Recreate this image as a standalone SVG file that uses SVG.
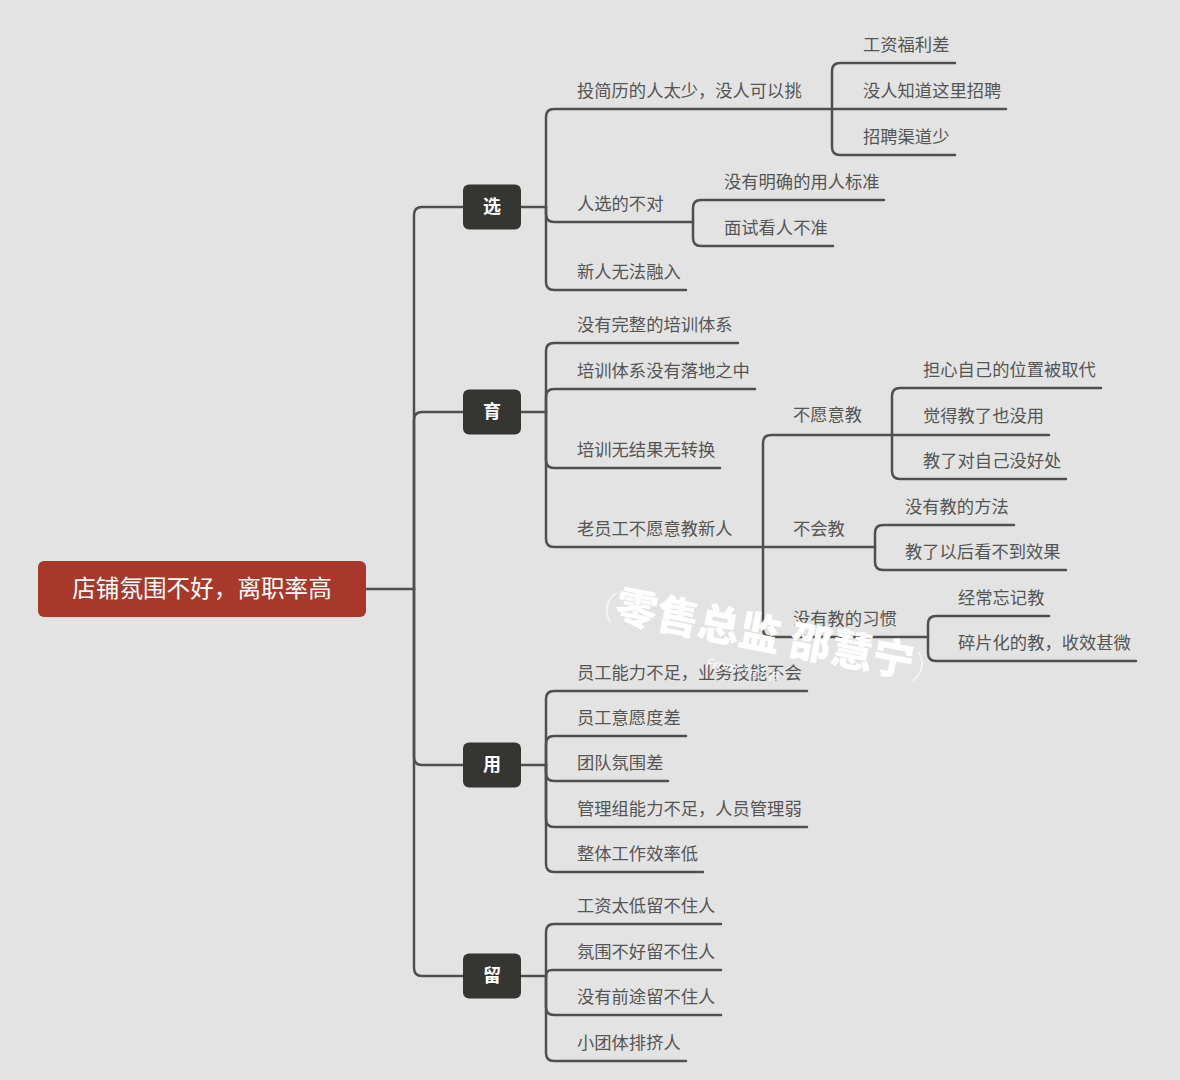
<svg xmlns="http://www.w3.org/2000/svg" width="1180" height="1080" viewBox="0 0 1180 1080">
<style>
.bg{fill:#e3e3e3}
.ln{fill:none;stroke:#4f4f4f;stroke-width:2.5;stroke-linecap:round}
.t{font-family:"Noto Sans CJK SC","Noto Sans",sans-serif;font-size:17.3px;fill:#555}
.l1 rect{fill:#353531}
.l1 text{font-family:"Noto Sans CJK SC","Noto Sans",sans-serif;font-size:18px;font-weight:bold;fill:#fff;text-anchor:middle}
.root rect{fill:#a8392a}
.root text{font-family:"Noto Sans CJK SC","Noto Sans",sans-serif;font-size:23.6px;fill:#fff;text-anchor:middle}
.wm{font-family:"Noto Sans CJK SC","Noto Sans",sans-serif;fill:#fff}
</style>
<rect class="bg" x="0" y="0" width="1180" height="1080"/>
<g id="connectors">
<path class="ln" d="M366,589 H414"/>
<path class="ln" d="M414,589 V215 Q414,207 422,207 H463"/>
<path class="ln" d="M414,589 V420 Q414,412 422,412 H463"/>
<path class="ln" d="M414,589 V757 Q414,765 422,765 H463"/>
<path class="ln" d="M414,589 V968 Q414,976 422,976 H463"/>
<path class="ln" d="M521,207 H546"/>
<path class="ln" d="M521,412 H546"/>
<path class="ln" d="M521,765 H546"/>
<path class="ln" d="M521,976 H546"/>
<!-- 选 -->
<path class="ln" d="M546,207 V117 Q546,109 554,109 H832"/>
<path class="ln" d="M832,109 V71 Q832,63 840,63 H955"/>
<path class="ln" d="M832,109 H1006"/>
<path class="ln" d="M832,109 V147 Q832,155 840,155 H955"/>
<path class="ln" d="M546,207 V214 Q546,222 554,222 H693"/>
<path class="ln" d="M693,222 V208 Q693,200 701,200 H884"/>
<path class="ln" d="M693,222 V238 Q693,246 701,246 H833"/>
<path class="ln" d="M546,207 V282 Q546,290 554,290 H686"/>
<!-- 育 -->
<path class="ln" d="M546,412 V351 Q546,343 554,343 H738"/>
<path class="ln" d="M546,412 V397 Q546,389 554,389 H755"/>
<path class="ln" d="M546,412 V460 Q546,468 554,468 H720"/>
<path class="ln" d="M546,412 V539 Q546,547 554,547 H763"/>
<path class="ln" d="M763,547 V443 Q763,435 771,435 H892"/>
<path class="ln" d="M892,435 V396 Q892,388 900,388 H1101"/>
<path class="ln" d="M892,435 H1049"/>
<path class="ln" d="M892,435 V471 Q892,479 900,479 H1066"/>
<path class="ln" d="M763,547 H875"/>
<path class="ln" d="M875,547 V533 Q875,525 883,525 H1014"/>
<path class="ln" d="M875,547 V562 Q875,570 883,570 H1066"/>
<path class="ln" d="M763,547 V629 Q763,637 771,637 H928"/>
<path class="ln" d="M928,637 V624 Q928,616 936,616 H1049"/>
<path class="ln" d="M928,637 V653 Q928,661 936,661 H1136"/>
<!-- 用 -->
<path class="ln" d="M546,765 V699 Q546,691 554,691 H807"/>
<path class="ln" d="M546,765 V744 Q546,736 554,736 H686"/>
<path class="ln" d="M546,765 V773 Q546,781 554,781 H668"/>
<path class="ln" d="M546,765 V819 Q546,827 554,827 H807"/>
<path class="ln" d="M546,765 V864 Q546,872 554,872 H703"/>
<!-- 留 -->
<path class="ln" d="M546,976 V932 Q546,924 554,924 H721"/>
<path class="ln" d="M546,976 Q546,970 552,970 H721"/>
<path class="ln" d="M546,976 V1007 Q546,1015 554,1015 H721"/>
<path class="ln" d="M546,976 V1053 Q546,1061 554,1061 H686"/>
</g>
<g id="root" class="root"><rect x="38" y="561" width="328" height="56" rx="6"/><text x="202" y="597">店铺氛围不好，离职率高</text></g>
<g id="n-xuan" class="l1"><rect x="463" y="184.5" width="58" height="45" rx="6"/><text x="492" y="213">选</text></g>
<g id="n-yu" class="l1"><rect x="463" y="389.5" width="58" height="45" rx="6"/><text x="492" y="418">育</text></g>
<g id="n-yong" class="l1"><rect x="463" y="742.5" width="58" height="45" rx="6"/><text x="492" y="771">用</text></g>
<g id="n-liu" class="l1"><rect x="463" y="953.5" width="58" height="45" rx="6"/><text x="492" y="982">留</text></g>
<g id="xuan-children">
<g id="x1"><text class="t" x="577" y="97">投简历的人太少，没人可以挑</text></g>
<g id="x1a"><text class="t" x="863" y="51">工资福利差</text></g>
<g id="x1b"><text class="t" x="863" y="97">没人知道这里招聘</text></g>
<g id="x1c"><text class="t" x="863" y="143">招聘渠道少</text></g>
<g id="x2"><text class="t" x="577" y="210">人选的不对</text></g>
<g id="x2a"><text class="t" x="724" y="188">没有明确的用人标准</text></g>
<g id="x2b"><text class="t" x="724" y="234">面试看人不准</text></g>
<g id="x3"><text class="t" x="577" y="278">新人无法融入</text></g>
</g>
<g id="yu-children">
<g id="y1"><text class="t" x="577" y="331">没有完整的培训体系</text></g>
<g id="y2"><text class="t" x="577" y="377">培训体系没有落地之中</text></g>
<g id="y3"><text class="t" x="577" y="456">培训无结果无转换</text></g>
<g id="y4"><text class="t" x="577" y="535">老员工不愿意教新人</text></g>
<g id="y4a"><text class="t" x="793" y="421">不愿意教</text></g>
<g id="y4a1"><text class="t" x="923" y="376">担心自己的位置被取代</text></g>
<g id="y4a2"><text class="t" x="923" y="422">觉得教了也没用</text></g>
<g id="y4a3"><text class="t" x="923" y="467">教了对自己没好处</text></g>
<g id="y4b"><text class="t" x="793" y="535">不会教</text></g>
<g id="y4b1"><text class="t" x="905" y="513">没有教的方法</text></g>
<g id="y4b2"><text class="t" x="905" y="558">教了以后看不到效果</text></g>
<g id="y4c"><text class="t" x="793" y="625">没有教的习惯</text></g>
<g id="y4c1"><text class="t" x="958" y="604">经常忘记教</text></g>
<g id="y4c2"><text class="t" x="958" y="649">碎片化的教，收效甚微</text></g>
</g>
<g id="yong-children">
<g id="u1"><text class="t" x="577" y="679">员工能力不足，业务技能不会</text></g>
<g id="u2"><text class="t" x="577" y="724">员工意愿度差</text></g>
<g id="u3"><text class="t" x="577" y="769">团队氛围差</text></g>
<g id="u4"><text class="t" x="577" y="815">管理组能力不足，人员管理弱</text></g>
<g id="u5"><text class="t" x="577" y="860">整体工作效率低</text></g>
</g>
<g id="liu-children">
<g id="l1"><text class="t" x="577" y="912">工资太低留不住人</text></g>
<g id="l2"><text class="t" x="577" y="958">氛围不好留不住人</text></g>
<g id="l3"><text class="t" x="577" y="1003">没有前途留不住人</text></g>
<g id="l4"><text class="t" x="577" y="1049">小团体排挤人</text></g>
</g>
<g id="watermark" transform="rotate(11 765 633)">
<text class="wm" x="765" y="649" text-anchor="middle" font-size="42" font-weight="900"><tspan font-weight="300" font-size="32" opacity="0.7">（</tspan>零售总监 邵慧宁<tspan font-weight="300" font-size="32" opacity="0.7">）</tspan></text>
<text class="wm" x="712" y="678" font-size="13" font-style="italic" opacity="0.9">From 小红书</text>
</g>
</svg>
